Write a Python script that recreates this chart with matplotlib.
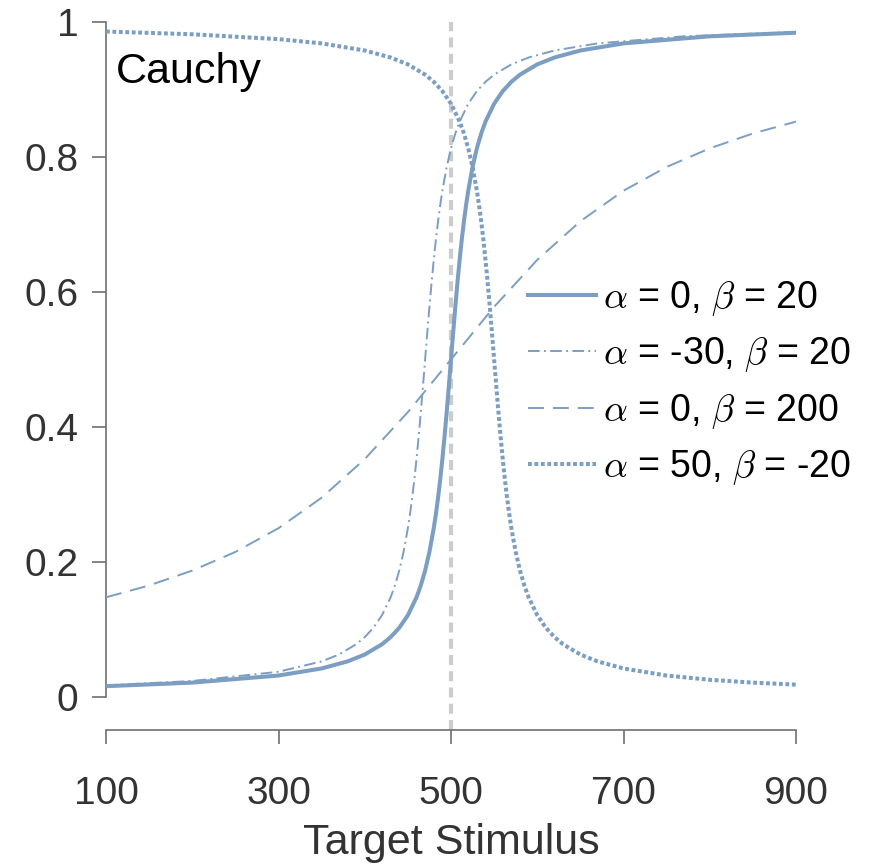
import matplotlib
matplotlib.use("Agg")
import matplotlib.pyplot as plt

plt.rcParams['font.family'] = ['Liberation Sans', 'DejaVu Sans']
plt.rcParams['mathtext.fontset'] = 'cm'

# Curve 1: alpha = 0, beta = 20
x1 = [100, 200, 300, 350, 380, 400, 420, 430, 440, 450, 460, 465, 470, 475, 480,
      482.5, 485, 487.5, 490, 492.5, 495, 497.5, 500, 502.5, 505, 507.5, 510, 512.5,
      515, 517.5, 520, 525, 530, 535, 540, 550, 560, 570, 580, 600, 620, 650, 700,
      800, 900]
y1 = [0.0159, 0.0212, 0.0317, 0.0422, 0.0526, 0.0628, 0.078, 0.0886, 0.1024, 0.1211,
      0.1476, 0.1652, 0.1872, 0.2148, 0.25, 0.2712, 0.2952, 0.3222, 0.3524, 0.3858,
      0.422, 0.4604, 0.5, 0.5396, 0.578, 0.6142, 0.6476, 0.6778, 0.7048, 0.7288, 0.75,
      0.7852, 0.8128, 0.8348, 0.8524, 0.8789, 0.8976, 0.9114, 0.922, 0.9372, 0.9474,
      0.9578, 0.9683, 0.9788, 0.9841]

# Curve 2: alpha = -30, beta = 20
x2 = [100, 200, 300, 350, 370, 390, 400, 410, 420, 430, 435, 440, 445, 450, 452.5,
      455, 457.5, 460, 462.5, 465, 467.5, 470, 472.5, 475, 477.5, 480, 482.5, 485,
      487.5, 490, 495, 500, 505, 510, 520, 530, 540, 550, 570, 590, 620, 670, 770, 900]
y2 = [0.0172, 0.0236, 0.0373, 0.0526, 0.0628, 0.078, 0.0886, 0.1024, 0.1211, 0.1476,
      0.1652, 0.1872, 0.2148, 0.25, 0.2712, 0.2952, 0.3222, 0.3524, 0.3858, 0.422,
      0.4604, 0.5, 0.5396, 0.578, 0.6142, 0.6476, 0.6778, 0.7048, 0.7288, 0.75, 0.7852,
      0.8128, 0.8348, 0.8524, 0.8789, 0.8976, 0.9114, 0.922, 0.9372, 0.9474, 0.9578,
      0.9683, 0.9788, 0.9852]

# Curve 3: alpha = 0, beta = 200
x3 = [100, 150, 200, 250, 300, 350, 400, 450, 500, 550, 600, 650, 700, 750, 800, 850, 900]
y3 = [0.1476, 0.1652, 0.1872, 0.2148, 0.25, 0.2952, 0.3524, 0.422, 0.5, 0.578, 0.6476,
      0.7048, 0.75, 0.7852, 0.8128, 0.8348, 0.8524]

# Curve 4: alpha = 50, beta = -20
x4 = [100, 200, 300, 350, 400, 430, 450, 470, 480, 490, 500, 510, 515, 520, 525, 530,
      532.5, 535, 537.5, 540, 542.5, 545, 547.5, 550, 552.5, 555, 557.5, 560, 562.5,
      565, 567.5, 570, 575, 580, 585, 590, 600, 610, 620, 630, 650, 670, 700, 750,
      800, 850, 900]
y4 = [0.9859, 0.9818, 0.9746, 0.9683, 0.9578, 0.9474, 0.9372, 0.922, 0.9114, 0.8976,
      0.8789, 0.8524, 0.8348, 0.8128, 0.7852, 0.75, 0.7288, 0.7048, 0.6778, 0.6476,
      0.6142, 0.578, 0.5396, 0.5, 0.4604, 0.422, 0.3858, 0.3524, 0.3222, 0.2952,
      0.2712, 0.25, 0.2148, 0.1872, 0.1652, 0.1476, 0.1211, 0.1024, 0.0886, 0.078,
      0.0628, 0.0526, 0.0422, 0.0317, 0.0254, 0.0212, 0.0182]

labels = [r'$\alpha$ = 0, $\beta$ = 20', r'$\alpha$ = -30, $\beta$ = 20',
          r'$\alpha$ = 0, $\beta$ = 200', r'$\alpha$ = 50, $\beta$ = -20']
xticks = [100, 300, 500, 700, 900]
yticks = [0, 0.2, 0.4, 0.6, 0.8, 1]
yticklabels = ['0', '0.2', '0.4', '0.6', '0.8', '1']
vline_x = 500

col = '#7B9EC2'
fig = plt.figure(figsize=(8.86, 8.68), dpi=100)
ax = fig.add_axes([106/886, 1-730/868, 690/886, 708/868])

ax.axvline(vline_x, color='#cccccc', lw=3, ls=(0, (2.4, 1.5)), zorder=1)
ax.plot(x1, y1, color=col, lw=2.9, ls='-', label=labels[0], zorder=3)
ax.plot(x2, y2, color=col, lw=1.4, ls=(0, (6, 2.2, 1, 2.2)), label=labels[1], zorder=3)
ax.plot(x3, y3, color=col, lw=1.4, ls=(0, (8.2, 4.6)), label=labels[2], zorder=3)
ax.plot(x4, y4, color=col, lw=2.9, ls=(0, (0.95, 0.65)), label=labels[3], zorder=3)

ax.set_xlim(100, 900)
ax.set_ylim(-0.049, 1.0)
ax.set_xticks(xticks)
ax.set_xticklabels([str(t) for t in xticks])
ax.set_yticks(yticks)
ax.set_yticklabels(yticklabels)

for s in ['top', 'right']:
    ax.spines[s].set_visible(False)
ax.spines['left'].set_bounds(0, 1)
ax.spines['bottom'].set_bounds(100, 900)
for s in ['left', 'bottom']:
    ax.spines[s].set_color('#707070')
    ax.spines[s].set_linewidth(1.2)
ax.tick_params(direction='out', length=10, width=1.2, color='#707070',
               labelcolor='#333333', labelsize=28)
ax.tick_params(axis='x', pad=23)
ax.tick_params(axis='y', pad=10)

ax.set_xlabel('Target Stimulus', fontsize=31, color='#333333', labelpad=8)

ax.text(0.015, 0.958, 'Cauchy', transform=ax.transAxes, fontsize=31,
        color='black', ha='left', va='top')

leg = ax.legend(loc='center left', bbox_to_anchor=(0.612, 0.49), frameon=False,
                fontsize=27, handlelength=1.8, handletextpad=0.2,
                labelspacing=0.46, borderaxespad=0, borderpad=0)

fig.savefig('out.png', dpi=100)
